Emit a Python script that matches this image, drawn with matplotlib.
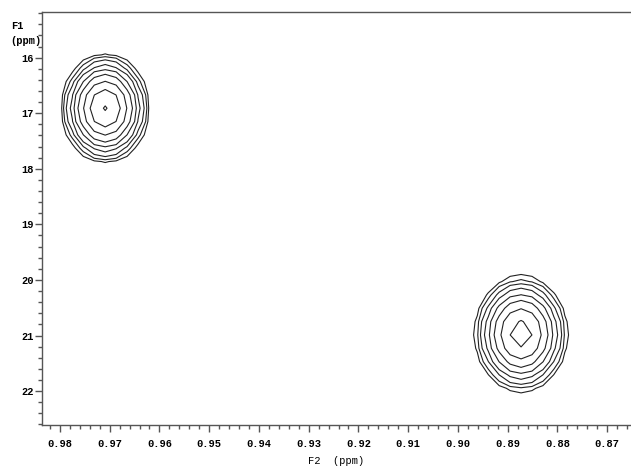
import numpy as np
import matplotlib
matplotlib.use('Agg')
import matplotlib.pyplot as plt
from matplotlib.ticker import MultipleLocator, FormatStrFormatter

# cross peaks: centre in F2 / F1, linewidth (sigma) in F2 / F1, relative height
peak_f2 = [0.9709, 0.8873]
peak_f1 = [16.91, 20.97]
sigma_f2 = [0.00348, 0.00386]
sigma_f1 = [0.388, 0.43]
peak_height = [1.0, 0.80]

# contour levels, relative to the tallest peak
contour_levels = [0.044, 0.065, 0.096, 0.142, 0.21, 0.31, 0.46, 0.68, 0.97]

f2_limits = (0.9836, 0.8652)
f1_limits = (22.61, 15.17)

# digital resolution of the processed spectrum
f2_step = 0.0022
f1_step = 0.24

plt.rcParams['font.family'] = ['Liberation Mono', 'DejaVu Sans Mono']
plt.rcParams['font.weight'] = 'bold'
plt.rcParams['font.size'] = 7.5

# F2 runs downfield -> upfield, so the grid steps toward smaller ppm
f2 = peak_f2[0] - f2_step * np.arange(-8, 52)
f1 = peak_f1[0] + f1_step * np.arange(-10, 35)
F2, F1 = np.meshgrid(f2, f1)
spectrum = np.zeros_like(F2)
for x0, y0, sx, sy, h in zip(peak_f2, peak_f1, sigma_f2, sigma_f1, peak_height):
    spectrum += h * np.exp(-0.5 * (((F2 - x0) / sx) ** 2 + ((F1 - y0) / sy) ** 2))

fig = plt.figure(figsize=(6.31, 4.68), dpi=100)
ax = fig.add_axes([0.0666, 0.0919, 0.9334, 0.8835])
ax.contour(F2, F1, spectrum, levels=contour_levels, colors='#222222', linewidths=0.8)

ax.set_xlim(*f2_limits)
ax.set_ylim(*f1_limits)
ax.xaxis.set_major_locator(MultipleLocator(0.01))
ax.xaxis.set_minor_locator(MultipleLocator(0.002))
ax.xaxis.set_major_formatter(FormatStrFormatter('%.2f'))
ax.yaxis.set_major_locator(MultipleLocator(1))
ax.yaxis.set_minor_locator(MultipleLocator(0.2))

ax.spines['right'].set_visible(False)
for side in ['left', 'top', 'bottom']:
    ax.spines[side].set_color('#555555')
    ax.spines[side].set_linewidth(1.0)
ax.tick_params(which='major', direction='out', length=5, width=1, color='#555555', pad=1)
ax.tick_params(which='minor', direction='out', length=3, width=1, color='#555555')
ax.tick_params(axis='x', which='major', pad=5)

fig.text(0.017, 0.945, 'F1', ha='left', va='center')
fig.text(0.017, 0.913, '(ppm)', ha='left', va='center')
ax.set_xlabel('F2  (ppm)', labelpad=5)

fig.savefig('out.png', dpi=100)
